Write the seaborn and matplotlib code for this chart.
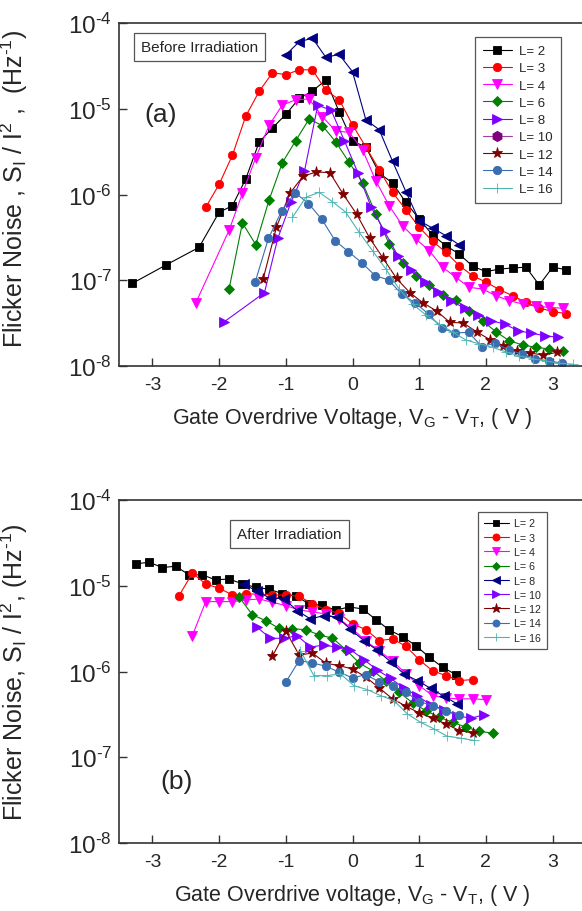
import numpy as np
import pandas as pd
import matplotlib
matplotlib.use("Agg")
import matplotlib.pyplot as plt
import seaborn as sns
from matplotlib.lines import Line2D
from matplotlib.ticker import NullLocator, FixedLocator, FuncFormatter

# ---------------- data: (a) before irradiation ----------------
a_L2_v = [-3.3, -2.8, -2.3, -2.0, -1.8, -1.6, -1.4, -1.2, -1.0, -0.8, -0.6, -0.4, -0.2, 0.0, 0.2, 0.4,
          0.6, 0.8, 1.0, 1.2, 1.4, 1.6, 1.8, 2.0, 2.2, 2.4, 2.6, 2.8, 3.0, 3.2]
a_L2_s = [9.2e-8, 1.5e-7, 2.42e-7, 6.2e-7, 7.4e-7, 1.52e-6, 4.07e-6, 5.97e-6, 8.58e-6, 1.32e-5, 1.61e-5,
          2.16e-5, 9.2e-6, 4.2e-6, 3.58e-6, 1.78e-6, 1.36e-6, 8.1e-7, 5.18e-7, 3.37e-7, 2.53e-7, 2.02e-7,
          1.46e-7, 1.26e-7, 1.35e-7, 1.39e-7, 1.42e-7, 8.8e-8, 1.42e-7, 1.33e-7]

a_L3_v = [-2.2, -2.0, -1.8, -1.6, -1.4, -1.2, -1.0, -0.8, -0.6, -0.4, -0.2, 0.0, 0.2, 0.4, 0.6, 0.8,
          1.0, 1.2, 1.4, 1.6, 1.8, 2.0, 2.2, 2.4, 2.6, 2.8, 3.0, 3.2]
a_L3_s = [7.1e-7, 1.31e-6, 2.87e-6, 8.2e-6, 1.59e-5, 2.63e-5, 2.5e-5, 2.84e-5, 2.85e-5, 1.64e-5, 1.28e-5,
          6.5e-6, 3.58e-6, 1.95e-6, 1.06e-6, 6.65e-7, 4.15e-7, 2.85e-7, 2.12e-7, 1.48e-7, 1.13e-7, 9.5e-8,
          7.8e-8, 6.6e-8, 5.53e-8, 4.75e-8, 4.32e-8, 4.09e-8]

a_L4_v = [-2.35, -1.85, -1.65, -1.45, -1.25, -1.05, -0.85, -0.65, -0.45, -0.25, -0.05, 0.15, 0.35, 0.55,
          0.75, 0.95, 1.15, 1.35, 1.55, 1.75, 1.95, 2.15, 2.35, 2.55, 2.75, 2.95, 3.15]
a_L4_s = [5.43e-8, 3.83e-7, 1.03e-6, 2.69e-6, 6.41e-6, 1.11e-5, 1.27e-5, 1.30e-5, 8.05e-6, 5.5e-6, 5.31e-6,
          3.33e-6, 1.44e-6, 7.4e-7, 4.32e-7, 3.03e-7, 2.21e-7, 1.42e-7, 1.08e-7, 8.27e-8, 7.9e-8, 6.6e-8,
          5.78e-8, 5.29e-8, 4.97e-8, 4.84e-8, 4.71e-8]

a_L6_v = [-1.85, -1.65, -1.45, -1.25, -1.05, -0.85, -0.65, -0.45, -0.25, -0.05, 0.15, 0.35, 0.55, 0.75,
          0.95, 1.15, 1.35, 1.55, 1.75, 1.95, 2.15, 2.35, 2.55, 2.75, 2.95, 3.15]
a_L6_s = [7.9e-8, 4.66e-7, 2.6e-7, 8.67e-7, 2.36e-6, 4.26e-6, 7.59e-6, 6.34e-6, 4.09e-6, 2.37e-6, 1.37e-6,
          5.93e-7, 2.65e-7, 1.59e-7, 1.13e-7, 8.8e-8, 6.73e-8, 5.89e-8, 4.38e-8, 3.35e-8, 2.51e-8, 1.97e-8,
          1.76e-8, 1.65e-8, 1.58e-8, 1.51e-8]

a_nav_v = [-1.0, -0.8, -0.6, -0.4, -0.2, 0.0, 0.2, 0.4, 0.6, 0.8, 1.0, 1.2, 1.4, 1.6]
a_nav_s = [4.24e-5, 6.04e-5, 6.65e-5, 3.98e-5, 4.3e-5, 2.7e-5, 7.45e-6, 5.7e-6, 2.44e-6, 1.08e-6, 4.94e-7,
           4.06e-7, 3.31e-7, 2.58e-7]

a_L8_v = [-1.92, -1.32, -1.12, -0.92, -0.72, -0.52, -0.32, -0.12, 0.08, 0.28, 0.48, 0.68, 0.88, 1.08,
          1.28, 1.48, 1.68, 1.88, 2.08, 2.28, 2.48, 2.68, 2.88, 3.08]
a_L8_s = [3.29e-8, 7.16e-8, 3.08e-7, 8.18e-7, 1.87e-6, 1.1e-5, 9.6e-6, 4.21e-6, 1.8e-6, 7.1e-7, 3.72e-7,
          1.93e-7, 1.33e-7, 9.46e-8, 7.24e-8, 5.7e-8, 4.75e-8, 3.98e-8, 3.37e-8, 3.09e-8, 2.58e-8, 2.41e-8,
          2.26e-8, 2.16e-8]

a_L12_v = [-1.34, -1.14, -0.94, -0.74, -0.54, -0.34, -0.14, 0.06, 0.26, 0.46, 0.66, 0.86, 1.06, 1.26,
           1.46, 1.66, 1.86, 2.06, 2.26, 2.46, 2.66, 2.86, 3.06]
a_L12_s = [1.03e-7, 4.15e-7, 1.03e-6, 1.64e-6, 1.83e-6, 1.8e-6, 1.01e-6, 5.93e-7, 3.08e-7, 1.8e-7, 1.05e-7,
           7.16e-8, 5.43e-8, 4.38e-8, 3.23e-8, 3.17e-8, 2.51e-8, 2.03e-8, 1.73e-8, 1.51e-8, 1.42e-8,
           1.34e-8, 1.44e-8]

a_L14_v = [-1.46, -1.26, -1.06, -0.86, -0.66, -0.46, -0.26, -0.06, 0.14, 0.34, 0.54, 0.74, 0.94, 1.14,
           1.34, 1.54, 1.74, 1.94, 2.14, 2.34, 2.54, 2.74, 2.94, 3.14]
a_L14_s = [9.46e-8, 3.08e-7, 6.47e-7, 1.05e-6, 7.85e-7, 5.14e-7, 2.89e-7, 2.15e-7, 1.6e-7, 1.13e-7, 1.01e-7,
           6.86e-8, 5.43e-8, 4.04e-8, 2.75e-8, 2.43e-8, 2.47e-8, 1.68e-8, 1.85e-8, 1.54e-8, 1.38e-8,
           1.21e-8, 1.15e-8, 1.08e-8]

a_L16_v = [-0.9, -0.7, -0.5, -0.3, -0.1, 0.1, 0.3, 0.5, 0.7, 0.9, 1.1, 1.3, 1.5, 1.7, 1.9, 2.1, 2.3,
           2.5, 2.7, 2.9, 3.1, 3.3]
a_L16_s = [5.42e-7, 9.27e-7, 1.06e-6, 8.24e-7, 6.2e-7, 3.62e-7, 2.21e-7, 1.35e-7, 7.9e-8, 5.29e-8, 3.93e-8,
           3.09e-8, 2.49e-8, 2.01e-8, 1.81e-8, 1.65e-8, 1.46e-8, 1.31e-8, 1.22e-8, 1.14e-8, 1.08e-8, 1.05e-8]

# ---------------- data: (b) after irradiation ----------------
b_L2_v = [-3.25, -3.05, -2.85, -2.65, -2.45, -2.25, -2.05, -1.85, -1.65, -1.45, -1.25, -1.05, -0.85,
          -0.65, -0.45, -0.25, -0.05, 0.15, 0.35, 0.55, 0.75, 0.95, 1.15, 1.35, 1.55]
b_L2_s = [1.8e-5, 1.88e-5, 1.63e-5, 1.69e-5, 1.34e-5, 1.34e-5, 1.17e-5, 1.2e-5, 1.05e-5, 9.6e-6, 9.1e-6,
          8.09e-6, 7.6e-6, 6.14e-6, 5.89e-6, 5.2e-6, 5.66e-6, 5.37e-6, 4.03e-6, 3.05e-6, 2.55e-6, 2.0e-6,
          1.47e-6, 1.12e-6, 9.2e-7]

b_L3_v = [-2.6, -2.4, -2.2, -2.0, -1.8, -1.6, -1.4, -1.2, -1.0, -0.8, -0.6, -0.4, -0.2, 0.0, 0.2, 0.4,
          0.6, 0.8, 1.0, 1.2, 1.4, 1.6, 1.8]
b_L3_s = [7.67e-6, 1.4e-5, 1.05e-5, 9.35e-6, 7.82e-6, 8.02e-6, 8.0e-6, 7.8e-6, 7.8e-6, 7.55e-6, 6.14e-6,
          5.26e-6, 4.78e-6, 3.59e-6, 3.08e-6, 2.29e-6, 2.4e-6, 1.97e-6, 1.37e-6, 1.02e-6, 8.95e-7, 7.83e-7,
          8.05e-7]

b_L4_v = [-2.4, -2.2, -2.0, -1.8, -1.6, -1.4, -1.2, -1.0, -0.8, -0.6, -0.4, -0.2, 0.0, 0.2, 0.4, 0.6,
          0.8, 1.0, 1.2, 1.4, 1.6, 1.8, 2.0]
b_L4_s = [2.62e-6, 6.53e-6, 6.53e-6, 6.53e-6, 6.83e-6, 7.01e-6, 6.42e-6, 5.86e-6, 5.22e-6, 4.95e-6, 4.69e-6,
          4.1e-6, 3.14e-6, 2.27e-6, 1.74e-6, 1.33e-6, 9.38e-7, 6.85e-7, 5.24e-7, 4.89e-7, 4.8e-7, 4.8e-7,
          4.7e-7]

b_L6_v = [-1.7, -1.5, -1.3, -1.1, -0.9, -0.7, -0.5, -0.3, -0.1, 0.1, 0.3, 0.5, 0.7, 0.9, 1.1, 1.3, 1.5,
          1.7, 1.9, 2.1]
b_L6_s = [7.4e-6, 4.57e-6, 3.92e-6, 3.18e-6, 3.16e-6, 3.07e-6, 2.67e-6, 2.45e-6, 1.8e-6, 1.26e-6, 1.02e-6,
          7.83e-7, 5.74e-7, 4.31e-7, 3.5e-7, 2.93e-7, 2.56e-7, 2.24e-7, 2.01e-7, 1.91e-7]

b_L8_v = [-1.63, -1.43, -1.23, -1.03, -0.83, -0.63, -0.43, -0.23, -0.03, 0.17, 0.37, 0.57, 0.77, 0.97,
          1.17, 1.37, 1.57]
b_L8_s = [1.05e-5, 8.59e-6, 7.15e-6, 7.1e-6, 5.13e-6, 4.1e-6, 4.49e-6, 4.3e-6, 3.11e-6, 2.29e-6, 1.77e-6,
          1.3e-6, 9.38e-7, 7.83e-7, 6.38e-7, 5.15e-7, 4.19e-7]

b_L10_v = [-1.43, -1.23, -1.03, -0.83, -0.63, -0.43, -0.23, -0.03, 0.17, 0.37, 0.57, 0.77, 0.97, 1.17,
           1.37, 1.57, 1.77, 1.97]
b_L10_s = [3.28e-6, 2.44e-6, 2.44e-6, 2.62e-6, 1.93e-6, 2.03e-6, 1.92e-6, 1.8e-6, 1.38e-6, 1.04e-6,
           8.35e-7, 6.38e-7, 5.24e-7, 4.08e-7, 3.6e-7, 3.06e-7, 2.85e-7, 3.12e-7]

b_L12_v = [-1.2, -1.0, -0.8, -0.6, -0.4, -0.2, 0.0, 0.2, 0.4, 0.6, 0.8, 1.0, 1.2, 1.4, 1.6, 1.8]
b_L12_s = [1.51e-6, 2.96e-6, 1.56e-6, 1.64e-6, 1.25e-6, 1.17e-6, 1.07e-6, 8.59e-7, 6.44e-7, 4.8e-7,
           3.94e-7, 3.29e-7, 2.85e-7, 2.45e-7, 2.05e-7, 1.92e-7]

b_L14_v = [-1.0, -0.8, -0.6, -0.4, -0.2, 0.0, 0.2, 0.4, 0.6, 0.8, 1.0, 1.2, 1.4, 1.6]
b_L14_s = [7.5e-7, 1.34e-6, 1.26e-6, 1.15e-6, 9.82e-7, 8.42e-7, 9.2e-7, 7.57e-7, 6.74e-7, 5.74e-7,
           4.46e-7, 4.01e-7, 3.45e-7, 3.15e-7]

b_L16_v = [-0.78, -0.58, -0.38, -0.18, 0.02, 0.22, 0.42, 0.62, 0.82, 1.02, 1.22, 1.42, 1.62, 1.82]
b_L16_s = [1.75e-6, 8.95e-7, 8.95e-7, 9.38e-7, 6.85e-7, 6.15e-7, 5.24e-7, 4.58e-7, 3.21e-7, 2.56e-7,
           2.14e-7, 1.76e-7, 1.67e-7, 1.57e-7]

x_ticks = [-3, -2, -1, 0, 1, 2, 3]
y_ticks = [1e-8, 1e-7, 1e-6, 1e-5, 1e-4]

# ---------------- style ----------------
sns.set_theme(style="ticks")
plt.rcParams["font.family"] = ["Liberation Sans", "DejaVu Sans"]
plt.rcParams["axes.unicode_minus"] = False
plt.rcParams["mathtext.fontset"] = "custom"
plt.rcParams["mathtext.rm"] = "Liberation Sans"
plt.rcParams["mathtext.it"] = "Liberation Sans:italic"
plt.rcParams["mathtext.default"] = "regular"

C_BLACK = "#000000"
C_RED = "#FF0000"
C_MAG = "#FF00FF"
C_GRN = "#008000"
C_NAVY = "#000080"
C_VIO = "#8000FF"
C_PUR = "#800080"
C_WINE = "#800000"
C_BLUE = "#3A6EB0"
C_TEAL = "#4DB3B3"

fig = plt.figure(figsize=(5.82, 9.12), dpi=100)
ax_a = fig.add_axes([119 / 582, 1 - 367 / 912, 467 / 582, 343 / 912])
ax_b = fig.add_axes([119 / 582, 1 - 844 / 912, 467 / 582, 343 / 912])


def draw(ax, v, s, color, marker, ms, label, lcolor=None):
    df = pd.DataFrame({"v": v, "s": s})
    sns.lineplot(data=df, x="v", y="s", ax=ax, sort=False, estimator=None,
                 color=lcolor or color, linewidth=0.8, marker=marker, markersize=ms,
                 markerfacecolor=color, markeredgecolor=color, markeredgewidth=0.6,
                 label=label, legend=False)
    return ax.lines[-1]


series_a = [
    ("L= 2", a_L2_v, a_L2_s, C_BLACK, "s", 5.2),
    ("L= 3", a_L3_v, a_L3_s, C_RED, "o", 6.0),
    ("L= 4", a_L4_v, a_L4_s, C_MAG, "v", 6.5),
    ("L= 6", a_L6_v, a_L6_s, C_GRN, "D", 5.0),
    (None, a_nav_v, a_nav_s, C_NAVY, "<", 6.5),
    ("L= 8", a_L8_v, a_L8_s, C_VIO, ">", 6.5),
    ("L= 12", a_L12_v, a_L12_s, C_WINE, "*", 8.0),
    ("L= 14", a_L14_v, a_L14_s, C_BLUE, "o", 6.0),
    ("L= 16", a_L16_v, a_L16_s, C_TEAL, "+", 7.0),
]
handles_a = {}
for lab, v, s, c, m, ms in series_a:
    ln = draw(ax_a, v, s, c, m, ms, lab)
    if lab:
        handles_a[lab] = ln
handles_a["L= 10"] = Line2D([], [], color="#A040A0", lw=0.8, marker="h", markersize=7,
                            markerfacecolor=C_PUR, markeredgecolor=C_PUR)
order_a = ["L= 2", "L= 3", "L= 4", "L= 6", "L= 8", "L= 10", "L= 12", "L= 14", "L= 16"]

series_b = [
    ("L= 2", b_L2_v, b_L2_s, C_BLACK, "s", 5.2),
    ("L= 3", b_L3_v, b_L3_s, C_RED, "o", 6.0),
    ("L= 4", b_L4_v, b_L4_s, C_MAG, "v", 6.5),
    ("L= 6", b_L6_v, b_L6_s, C_GRN, "D", 5.0),
    ("L= 8", b_L8_v, b_L8_s, C_NAVY, "<", 6.5),
    ("L= 10", b_L10_v, b_L10_s, C_VIO, ">", 6.5),
    ("L= 12", b_L12_v, b_L12_s, C_WINE, "*", 8.0),
    ("L= 14", b_L14_v, b_L14_s, C_BLUE, "o", 6.0),
    ("L= 16", b_L16_v, b_L16_s, C_TEAL, "+", 7.0),
]
handles_b = {}
for lab, v, s, c, m, ms in series_b:
    handles_b[lab] = draw(ax_b, v, s, c, m, ms, lab)


def log_fmt(val, pos):
    e = int(round(np.log10(val)))
    return r"$\mathregular{10^{\text{-}%d}}$" % abs(e)


for ax in (ax_a, ax_b):
    ax.set_yscale("log")
    ax.set_ylim(1e-8, 1e-4)
    ax.set_xlim(-3.5, 3.5)
    ax.xaxis.set_major_locator(FixedLocator(x_ticks))
    ax.yaxis.set_major_locator(FixedLocator(y_ticks))
    ax.yaxis.set_major_formatter(FuncFormatter(log_fmt))
    ax.yaxis.set_minor_locator(NullLocator())
    ax.xaxis.set_minor_locator(NullLocator())
    ax.tick_params(axis="both", direction="in", length=6, width=1.0, color="#333333")
    ax.tick_params(axis="x", labelsize=14, pad=7)
    ax.tick_params(axis="y", labelsize=17.5, pad=5)
    for sp in ("left", "bottom", "top"):
        ax.spines[sp].set_linewidth(1.2)
        ax.spines[sp].set_color("#333333")
    ax.spines["right"].set_visible(False)

ax_a.set_xlabel(r"Gate Overdrive Voltage, V$_\mathregular{G}$ - V$_\mathregular{T}$, ( V )",
                fontsize=15.5, labelpad=9)
ax_b.set_xlabel(r"Gate Overdrive voltage, V$_\mathregular{G}$ - V$_\mathregular{T}$, ( V )",
                fontsize=15.5, labelpad=9)
ax_a.set_ylabel(r"Flicker Noise , S$_\mathregular{I}$ / I$^\mathregular{2}$ ,  (Hz$^{\text{-}1}$)",
                fontsize=18)
ax_b.set_ylabel(r"Flicker Noise, S$_\mathregular{I}$ / I$^\mathregular{2}$, (Hz$^{\text{-}1}$)",
                fontsize=18)
ax_a.yaxis.set_label_coords(-0.19, 0.52)
ax_b.yaxis.set_label_coords(-0.19, 0.5)

ax_a.text(0.09, 0.735, "(a)", transform=ax_a.transAxes, fontsize=19, ha="center", va="center")
ax_b.text(0.124, 0.181, "(b)", transform=ax_b.transAxes, fontsize=19, ha="center", va="center")

box = dict(boxstyle="square,pad=0.45", facecolor="white", edgecolor="#555555", linewidth=0.9)
ax_a.text(0.173, 0.930, "Before Irradiation", transform=ax_a.transAxes, fontsize=11,
          ha="center", va="center", bbox=box)
ax_b.text(0.365, 0.901, "After Irradiation", transform=ax_b.transAxes, fontsize=11,
          ha="center", va="center", bbox=box)

leg_a = ax_a.legend([handles_a[k] for k in order_a], order_a, loc="upper left",
                    bbox_to_anchor=(0.762, 0.959), borderaxespad=0, fontsize=9.5,
                    handlelength=2.2, handletextpad=0.55, labelspacing=0.38, borderpad=0.6,
                    fancybox=False, framealpha=1, edgecolor="#555555")
leg_a.get_frame().set_linewidth(0.9)
order_b = ["L= 2", "L= 3", "L= 4", "L= 6", "L= 8", "L= 10", "L= 12", "L= 14", "L= 16"]
leg_b = ax_b.legend([handles_b[k] for k in order_b], order_b, loc="upper left",
                    bbox_to_anchor=(0.768, 0.965), borderaxespad=0, fontsize=7.7,
                    handlelength=2.3, handletextpad=0.5, labelspacing=0.4, borderpad=0.6,
                    fancybox=False, framealpha=1, edgecolor="#555555", markerscale=0.85)
leg_b.get_frame().set_linewidth(0.9)

fig.savefig("out.png", dpi=100)
